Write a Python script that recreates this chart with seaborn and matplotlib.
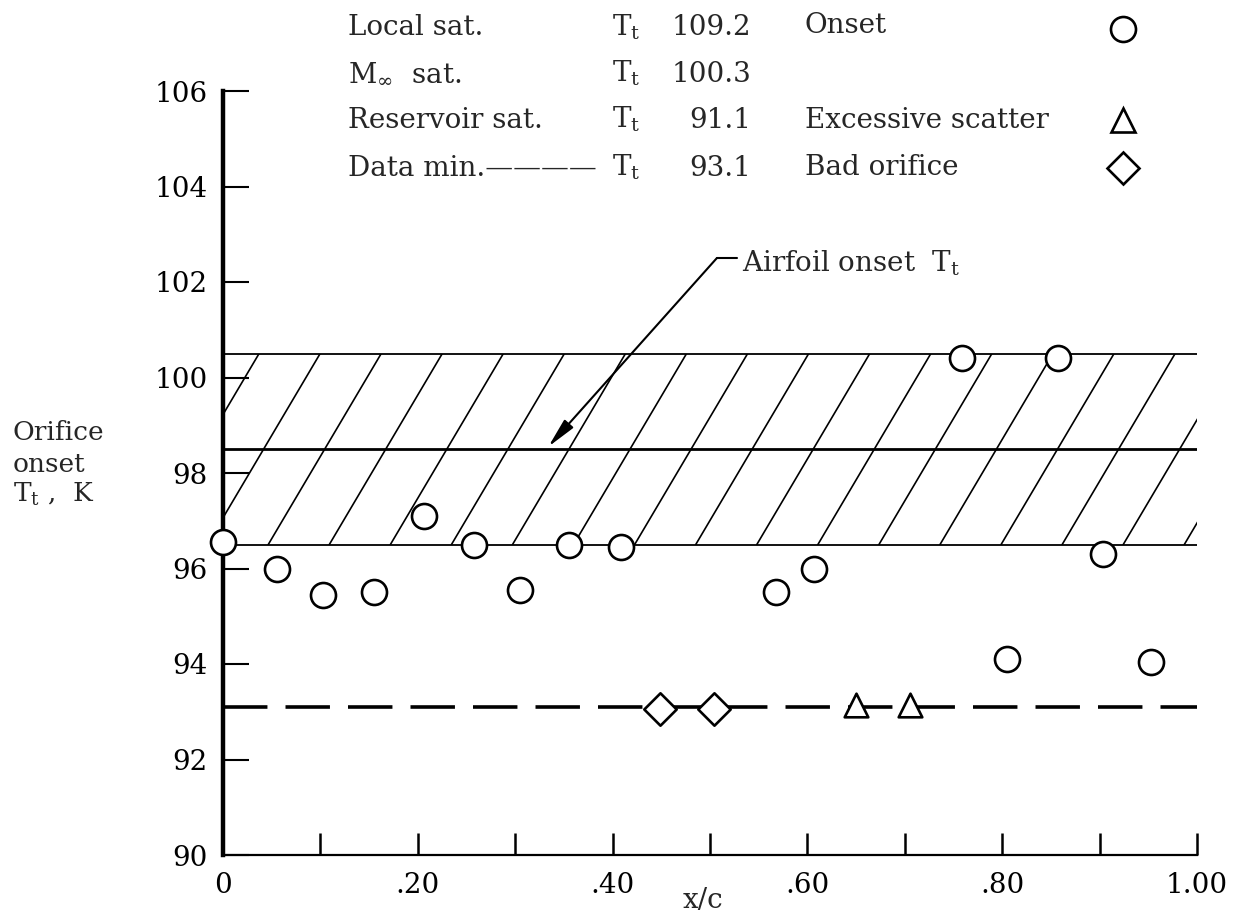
import numpy as np
import pandas as pd
import matplotlib
matplotlib.use("Agg")
import matplotlib.pyplot as plt
from matplotlib.lines import Line2D
from matplotlib.patches import Rectangle
import seaborn as sns

# Orifice onset total temperature versus chord station
onset_x = [0.0, 0.055, 0.103, 0.155, 0.206, 0.258, 0.305, 0.355, 0.409,
           0.568, 0.607, 0.759, 0.805, 0.857, 0.903, 0.953]
onset_y = [96.55, 96.0, 95.45, 95.5, 97.1, 96.5, 95.55, 96.5, 96.45,
           95.5, 96.0, 100.4, 94.1, 100.4, 96.3, 94.05]

scatter_x = [0.650, 0.705]
scatter_y = [93.15, 93.15]

bad_x = [0.449, 0.504]
bad_y = [93.05, 93.05]

# Airfoil onset band and data minimum
band_low = 96.5
band_mid = 98.5
band_high = 100.5
data_min = 93.1

sat_labels = ["Local sat.", r"$\mathrm{M}_{\infty}$  sat.", "Reservoir sat.", "Data min.————"]
sat_values = ["109.2", "100.3", "91.1", "93.1"]
symbol_labels = ["Onset", "Excessive scatter", "Bad orifice"]

x_ticks = [0.0, 0.1, 0.2, 0.3, 0.4, 0.5, 0.6, 0.7, 0.8, 0.9, 1.0]
x_tick_labels = ["0", "", ".20", "", ".40", "", ".60", "", ".80", "", "1.00"]
y_ticks = [90, 92, 94, 96, 98, 100, 102, 104, 106]

sns.set_theme(style="white")
plt.rcParams["font.family"] = ["DejaVu Serif"]
plt.rcParams["mathtext.fontset"] = "dejavuserif"
plt.rcParams["lines.scale_dashes"] = False

fig = plt.figure(figsize=(12.35, 9.23), dpi=100)
ax = fig.add_axes([223 / 1235, 1 - 855 / 923, (1197 - 223) / 1235, (855 - 91) / 923])
ax.set_xlim(0, 1.0)
ax.set_ylim(90, 106)

# band edges and center line
ax.hlines([band_low, band_high], 0, 1.0, colors="black", lw=1.3, zorder=2)
ax.hlines([band_mid], 0, 1.0, colors="black", lw=2.0, zorder=2)
ax.hlines([data_min], 0, 1.0, colors="black", lw=2.6, linestyles=(0, (32, 13)), zorder=2)

# slanted hatching inside the band
hatch_run = 0.116
hatch_step = 0.0627
clip_box = Rectangle((0, band_low), 1.0, band_high - band_low, transform=ax.transData)
for xb in np.arange(-0.079, 1.0, hatch_step):
    ln, = ax.plot([xb, xb + hatch_run], [band_low, band_high], color="black", lw=1.2, zorder=1)
    ln.set_clip_path(clip_box)

# data markers
df_on = pd.DataFrame({"x": onset_x, "y": onset_y})
df_sc = pd.DataFrame({"x": scatter_x, "y": scatter_y})
df_bad = pd.DataFrame({"x": bad_x, "y": bad_y})
sns.scatterplot(data=df_on, x="x", y="y", marker="o", s=18 ** 2, color="white",
                edgecolor="black", linewidth=1.9, clip_on=False, zorder=5, ax=ax)
sns.scatterplot(data=df_sc, x="x", y="y", marker="^", s=17 ** 2, color="white",
                edgecolor="black", linewidth=1.9, clip_on=False, zorder=5, ax=ax)
sns.scatterplot(data=df_bad, x="x", y="y", marker="D", s=16.5 ** 2, color="white",
                edgecolor="black", linewidth=1.9, clip_on=False, zorder=5, ax=ax)

# leader for the airfoil onset label
ax.plot([0.507, 0.528], [102.5, 102.5], color="black", lw=1.5)
ax.annotate("", xy=(0.334, band_mid + 0.05), xytext=(0.507, 102.5),
            arrowprops=dict(arrowstyle="-|>,head_width=0.18,head_length=0.9",
                            color="black", lw=1.5, shrinkA=0, shrinkB=0,
                            mutation_scale=20))
ax.text(0.533, 102.4, r"Airfoil onset  $\mathrm{T_t}$", fontsize=20, va="center", ha="left")

# axes styling
for side in ["top", "right"]:
    ax.spines[side].set_visible(False)
ax.spines["left"].set_linewidth(3.2)
ax.spines["bottom"].set_linewidth(1.6)
ax.spines["left"].set_color("black")
ax.spines["bottom"].set_color("black")
ax.set_xticks(x_ticks)
ax.set_xticklabels(x_tick_labels)
ax.set_yticks(y_ticks)
ax.set_yticklabels([str(v) for v in y_ticks])
ax.tick_params(axis="y", left=True, direction="in", length=19, width=1.5, pad=11,
               labelsize=20, colors="black")
ax.tick_params(axis="x", bottom=True, direction="in", length=16, width=1.8, pad=12,
               labelsize=20, colors="black")
ax.set_xlabel("x/c", fontsize=20)
ax.xaxis.set_label_coords(0.493, -0.042)
ax.set_ylabel("")

# y-axis caption
fig.text(13 / 1235, 1 - 440 / 923, "Orifice", fontsize=19, ha="left", va="baseline")
fig.text(13 / 1235, 1 - 472 / 923, "onset", fontsize=19, ha="left", va="baseline")
fig.text(13 / 1235, 1 - 502 / 923, r"$\mathrm{T_t}$ ,  K", fontsize=19, ha="left", va="baseline")

# saturation temperatures
baselines = [35, 82, 128, 176]
for lab, val, yb in zip(sat_labels, sat_values, baselines):
    yf = 1 - yb / 923
    fig.text(348 / 1235, yf, lab, fontsize=20, ha="left", va="baseline")
    fig.text(612 / 1235, yf, r"$\mathrm{T_t}$", fontsize=20, ha="left", va="baseline")
    fig.text(751 / 1235, yf, val, fontsize=20, ha="right", va="baseline")

# symbol key
key_baselines = [33, 128, 175]
key_markers = [("o", 18, 29), ("^", 17, 120), ("D", 16.5, 168)]
for lab, yb, (mk, ms, yc) in zip(symbol_labels, key_baselines, key_markers):
    fig.text(805 / 1235, 1 - yb / 923, lab, fontsize=20, ha="left", va="baseline")
    fig.add_artist(Line2D([1123 / 1235], [1 - yc / 923], transform=fig.transFigure,
                          marker=mk, markersize=ms, markerfacecolor="white",
                          markeredgecolor="black", markeredgewidth=1.9, linestyle="none"))

fig.savefig("out.png", dpi=100, facecolor="white")
